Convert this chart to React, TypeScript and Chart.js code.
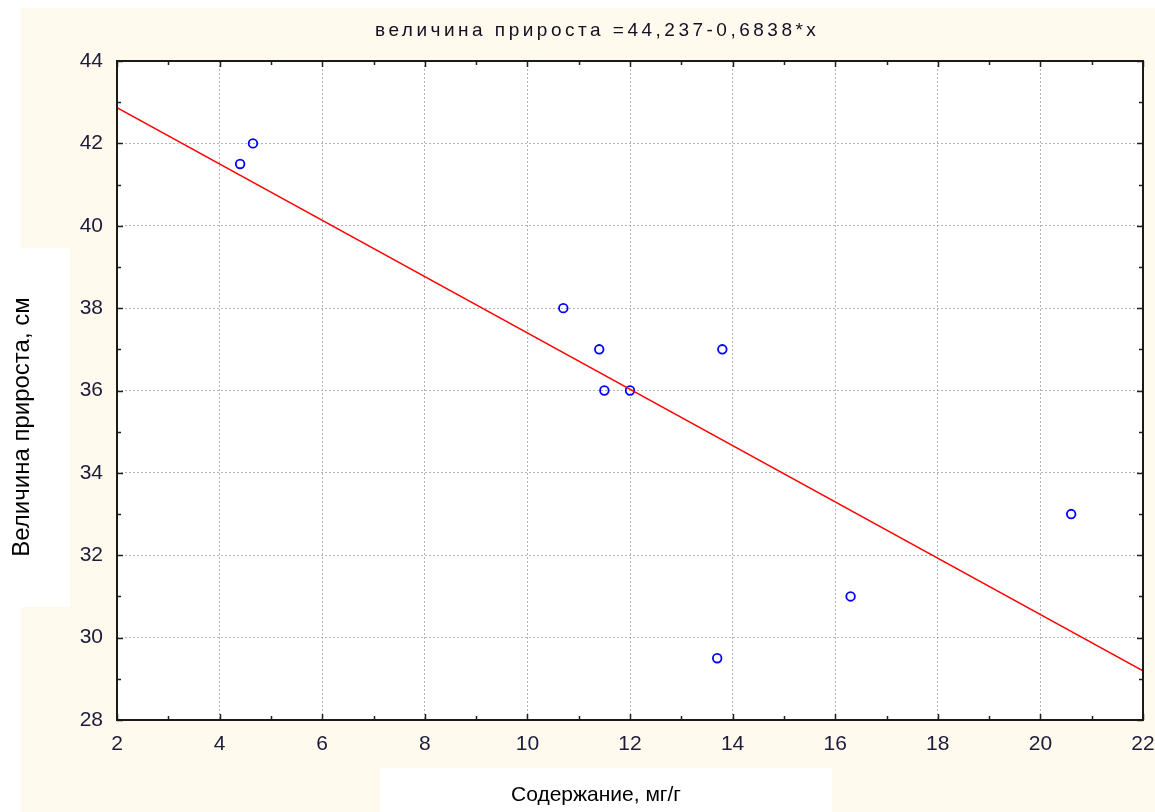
import React, { useEffect, useRef } from "react";
import { Chart, registerables } from "chart.js";

Chart.register(...registerables);

const titleText = "величина прироста =44,237-0,6838*x";
const xTitle = "Содержание, мг/г";
const yTitle = "Величина прироста, см";

const contentX = [4.4, 4.65, 10.7, 11.4, 11.5, 12.0, 13.8, 13.7, 16.3, 20.6];
const growthY = [41.5, 42.0, 38.0, 37.0, 36.0, 36.0, 37.0, 29.5, 31.0, 33.0];

const intercept = 44.237;
const slope = -0.6838;
const lineX = [2, 22];

const xMin = 2, xMax = 22, xStep = 2;
const yMin = 28, yMax = 44, yStep = 2;

const CREAM = "#FFF9EE";
const FONT = "'Liberation Sans', Arial, sans-serif";

const decorPlugin = {
  id: "decor",
  beforeDraw(chart: any) {
    const { ctx, width, height, chartArea: ca } = chart;
    ctx.save();
    ctx.fillStyle = "#FFFFFF";
    ctx.fillRect(0, 0, width, height);
    ctx.fillStyle = CREAM;
    ctx.fillRect(21, 8, width - 21, height - 8);
    ctx.fillStyle = "#FFFFFF";
    ctx.fillRect(0, 248, 70, 359);
    ctx.fillRect(380, 768, 452, height - 768);
    ctx.fillRect(ca.left, ca.top, ca.right - ca.left, ca.bottom - ca.top);
    ctx.restore();
  },
  afterDraw(chart: any) {
    const { ctx, chartArea: ca, scales } = chart;
    const xs = scales.x, ys = scales.y;
    ctx.save();
    // inward ticks
    ctx.strokeStyle = "#202020";
    ctx.lineWidth = 1.5;
    ctx.beginPath();
    for (let v = xMin; v <= xMax; v += 1) {
      const px = Math.round(xs.getPixelForValue(v)) + 0.5;
      const len = v % 2 === 0 ? 6 : 4;
      ctx.moveTo(px, ca.bottom);
      ctx.lineTo(px, ca.bottom - len);
      ctx.moveTo(px, ca.top);
      ctx.lineTo(px, ca.top + len);
    }
    for (let v = yMin; v <= yMax; v += 1) {
      const py = Math.round(ys.getPixelForValue(v)) + 0.5;
      const len = v % 2 === 0 ? 6 : 4;
      ctx.moveTo(ca.left, py);
      ctx.lineTo(ca.left + len, py);
      ctx.moveTo(ca.right, py);
      ctx.lineTo(ca.right - len, py);
    }
    ctx.stroke();
    // frame
    ctx.lineWidth = 2;
    ctx.strokeStyle = "#1a1a1a";
    ctx.strokeRect(ca.left, ca.top, ca.right - ca.left, ca.bottom - ca.top);
    // title
    ctx.fillStyle = "#101020";
    ctx.font = `19px ${FONT}`;
    (ctx as any).letterSpacing = "3.5px";
    ctx.textAlign = "left";
    ctx.textBaseline = "middle";
    ctx.fillText(titleText, 375, 31);
    (ctx as any).letterSpacing = "0px";
    ctx.textAlign = "center";
    // x title
    ctx.fillStyle = "#000000";
    ctx.font = `21px ${FONT}`;
    ctx.fillText(xTitle, 596, 795);
    // y title
    ctx.font = `24px ${FONT}`;
    ctx.translate(22, 427);
    ctx.rotate(-Math.PI / 2);
    ctx.fillText(yTitle, 0, 0);
    ctx.restore();
  },
};

export default function App() {
  const ref = useRef<HTMLCanvasElement | null>(null);
  useEffect(() => {
    if (!ref.current) return;
    const points = contentX.map((x, i) => ({ x, y: growthY[i] }));
    const fit = lineX.map((x) => ({ x, y: intercept + slope * x }));
    const chart = new Chart(ref.current, {
      type: "scatter",
      data: {
        datasets: [
          {
            type: "line",
            data: fit,
            borderColor: "#FF0000",
            borderWidth: 1.5,
            pointRadius: 0,
            fill: false,
          } as any,
          {
            data: points,
            borderColor: "#0000FF",
            backgroundColor: "rgba(0,0,0,0)",
            borderWidth: 1.8,
            pointRadius: 4.3,
            pointStyle: "circle",
          },
        ],
      },
      options: {
        animation: false,
        responsive: false,
        events: [],
        layout: { padding: { left: 0, top: 61, right: 12, bottom: 0 } },
        plugins: { legend: { display: false }, tooltip: { enabled: false }, title: { display: false } },
        scales: {
          x: {
            type: "linear",
            min: xMin,
            max: xMax,
            afterFit: (s: any) => { s.height = 92; s.paddingLeft = 0; s.paddingRight = 0; },
            afterBuildTicks: (s: any) => {
              const t = [];
              for (let v = xMin; v <= xMax; v += xStep) t.push({ value: v });
              s.ticks = t;
            },
            ticks: { color: "#1c1c3a", font: { family: FONT, size: 21 }, padding: 12, maxRotation: 0, autoSkip: false },
            grid: { color: "#b4b4b4", drawTicks: false, tickLength: 0 },
            border: { display: false, dash: [2, 2] },
          },
          y: {
            type: "linear",
            min: yMin,
            max: yMax,
            afterFit: (s: any) => { s.width = 117; s.paddingTop = 0; s.paddingBottom = 0; },
            afterBuildTicks: (s: any) => {
              const t = [];
              for (let v = yMin; v <= yMax; v += yStep) t.push({ value: v });
              s.ticks = t;
            },
            ticks: { color: "#1c1c3a", font: { family: FONT, size: 21 }, padding: 14, autoSkip: false },
            grid: { color: "#b4b4b4", drawTicks: false, tickLength: 0 },
            border: { display: false, dash: [2, 2] },
          },
        },
      },
      plugins: [decorPlugin],
    });
    return () => chart.destroy();
  }, []);
  return (
    <div style={{ position: "absolute", left: 0, top: 0, width: 1155, height: 812 }}>
      <canvas ref={ref} width={1155} height={812} style={{ width: 1155, height: 812, display: "block" }} />
    </div>
  );
}
